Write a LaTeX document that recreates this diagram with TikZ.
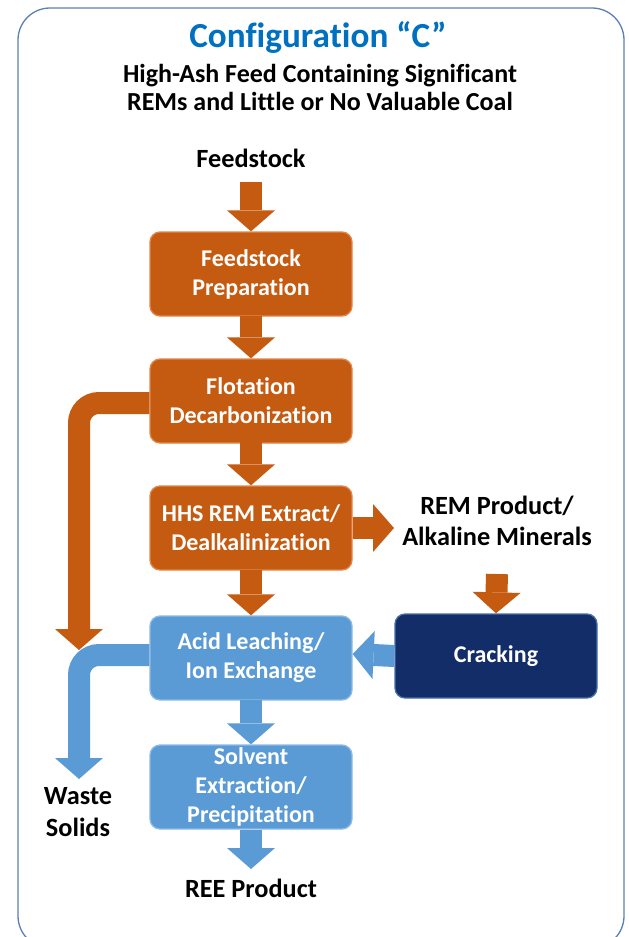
\documentclass[tikz,border=0pt]{standalone}
\usepackage{fontspec}
\setmainfont[Ligatures=NoCommon]{Carlito}
\usetikzlibrary{arrows.meta,calc}

\definecolor{rust}{HTML}{C55A11}
\definecolor{rustedge}{HTML}{E3864A}
\definecolor{sky}{HTML}{5B9BD5}
\definecolor{skyedge}{HTML}{8DBBE8}
\definecolor{navy}{HTML}{122D68}
\definecolor{navyedge}{HTML}{4C6CAA}
\definecolor{titleblue}{HTML}{0070C0}
\definecolor{framec}{HTML}{5C7FB3}

\begin{document}
\begin{tikzpicture}[x=1pt,y=-1pt,
  every node/.style={font=\bfseries\fontsize{24}{29}\selectfont, align=center, inner sep=0pt},
  stage/.style={rounded corners=10pt, minimum width=202pt, minimum height=84pt,
    text=white, line width=1.3pt},
  orangebox/.style={stage, fill=rust, draw=rustedge},
  bluebox/.style={stage, fill=sky, draw=skyedge},
  navybox/.style={stage, fill=navy, draw=navyedge},
  label/.style={text=black, font=\bfseries\fontsize{26.3}{31.5}\selectfont},
  pipe/.style={line width=22pt, rounded corners=20pt,
    -{Triangle[width=48pt,length=21pt,line width=0pt]}},
  orangepipe/.style={pipe, draw=rust},
  bluepipe/.style={pipe, draw=sky}
]
\useasboundingbox (0,0) rectangle (629,937);
\clip (0,0) rectangle (629,937);

% outer panel
\draw[framec, line width=1.3pt, fill=white, rounded corners=32pt] (18,8) rectangle (624,948);

% heading
\node[text=titleblue, font=\bfseries\fontsize{35.2}{40}\selectfont] (title) at (318,37) {Configuration “C”};
\node[text=black, font=\bfseries\fontsize{26}{28}\selectfont] (subtitle) at (320,87)
  {High-Ash Feed Containing Significant\\REMs and Little or No Valuable Coal};

% process stages
\node[label] (feed) at (251,158) {Feedstock};
\node[orangebox] (prep) at (251,274) {Feedstock\\Preparation};
\node[orangebox] (flot) at (251,401) {Flotation\\Decarbonization};
\node[orangebox] (hhs)  at (251,528) {HHS REM Extract/\\Dealkalinization};
\node[bluebox]   (acid) at (251,658) {Acid Leaching/\\Ion Exchange};
\node[bluebox]   (solv) at (251,787) {Solvent\\Extraction/\\Precipitation};
\node[navybox]   (crack) at (496,656) {Cracking};

\node[label] (rem)   at (497,521) {REM Product/\\Alkaline Minerals};
\node[label] (waste) at (78,812) {Waste\\Solids};
\node[label] (ree)   at (251,888) {REE Product};

% free ends of the connectors
\coordinate (feedout) at (251,182);
\coordinate (remin)   at (394,528);
\coordinate (remout)  at (497,574);
\coordinate (wastein1) at (79,650);
\coordinate (wastein2) at (79,779);
\coordinate (reein)   at (251,869);

% main line
\draw[orangepipe] (feedout) -- (prep.north);
\draw[orangepipe] ([yshift=1pt]prep.south) -- (flot.north);
\draw[orangepipe] ([yshift=4pt]flot.south) -- (hhs.north);
\draw[orangepipe] ([yshift=1pt]hhs.south) -- (acid.north);
\draw[bluepipe]   ([yshift=1pt]acid.south) -- (solv.north);
\draw[bluepipe]   (solv.south) -- (reein);

% side streams
\draw[orangepipe] (hhs.east) -- (remin);
\draw[orangepipe] (remout) -- (crack.north);
\draw[bluepipe]   (crack.west) -- ([yshift=4pt]acid.east);
\draw[orangepipe] ([yshift=-2pt]flot.west) -| (wastein1);
\draw[bluepipe]   ([yshift=3pt]acid.west) -| (wastein2);
\end{tikzpicture}
\end{document}
